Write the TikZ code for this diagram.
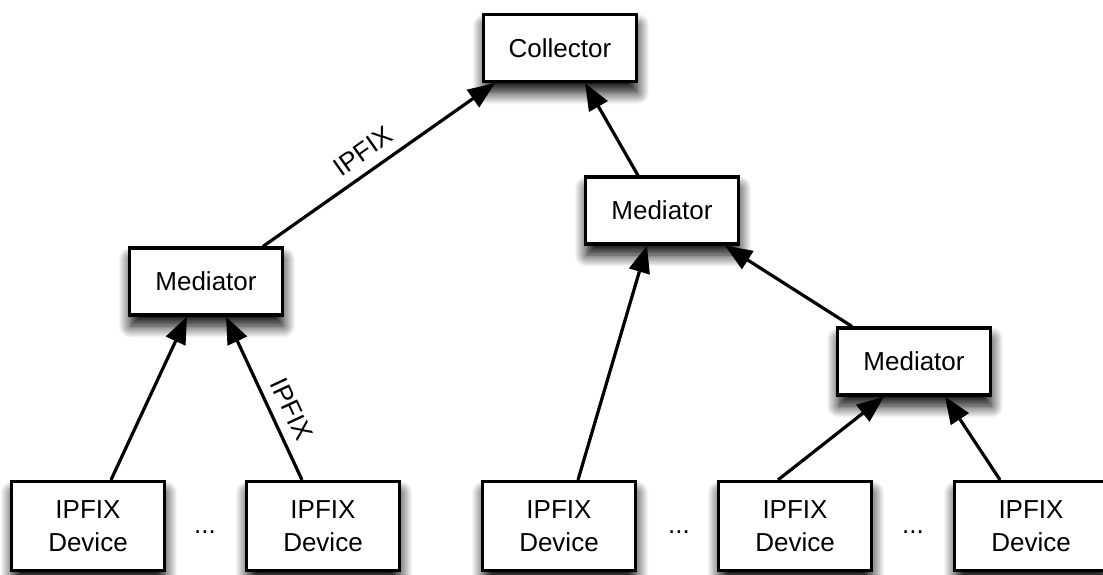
\documentclass[tikz,border=0pt]{standalone}
\usepackage{fontspec}
\setmainfont{Liberation Sans}
\usetikzlibrary{arrows.meta,shadows.blur}

\tikzset{
  box/.style={draw=black, line width=3.2pt, fill=white, align=center,
    font=\fontsize{26}{33}\selectfont, inner sep=0pt,
    blur shadow={shadow xshift=1pt, shadow yshift=-11pt,
      shadow blur radius=12pt, shadow opacity=100, shadow blur steps=16}},
  unit/.style={box, minimum width=153pt, minimum height=67pt},
  device/.style={box, minimum width=153pt, minimum height=89pt},
  arr/.style={line width=3.2pt, -{Triangle[length=27pt,width=21pt]}},
  lbl/.style={font=\fontsize{26}{30}\selectfont, sloped, inner sep=2pt},
  dots/.style={font=\fontsize{26}{30}\selectfont, anchor=base, inner sep=0pt}
}

\begin{document}
\begin{tikzpicture}[x=1pt, y=-1pt]
  \useasboundingbox (0,0) rectangle (1103,574);

  % collector and mediators
  \node[unit] (coll) at (560,48) {Collector};
  \node[unit] (mL) at (206,281.5) {Mediator};
  \node[unit] (mM) at (662,210.5) {Mediator};
  \node[unit] (mR) at (914,361.5) {Mediator};

  % exporting devices
  \node[device] (d1) at (88,526) {IPFIX\\Device};
  \node[device] (d2) at (323,526) {IPFIX\\Device};
  \node[device] (d3) at (559,526) {IPFIX\\Device};
  \node[device] (d4) at (795,526) {IPFIX\\Device};
  \node[device] (d5) at (1031,526) {IPFIX\\Device};

  % gaps between devices
  \node[dots] (g1) at (205,533) {...};
  \node[dots] (g2) at (679,533) {...};
  \node[dots] (g3) at (913,533) {...};

  % flows
  \draw[arr] ([xshift=57pt]mL.north) -- node[lbl, pos=0.48, above=8pt] {IPFIX} ([xshift=-65pt]coll.south);
  \draw[arr] ([xshift=-24pt]mM.north) -- ([xshift=25pt]coll.south);
  \draw[arr] ([xshift=-62pt]mR.north) -- ([xshift=63pt]mM.south);
  \draw[arr] ([xshift=23pt]d1.north) -- ([xshift=-19pt]mL.south);
  \draw[arr] ([xshift=-21pt]d2.north) -- node[lbl, pos=0.38, above=8pt] {IPFIX} ([xshift=20pt]mL.south);
  \draw[arr] ([xshift=19pt]d3.north) -- ([xshift=-15pt]mM.south);
  \draw[arr] ([xshift=-17pt]d4.north) -- ([xshift=-30pt]mR.south);
  \draw[arr] ([xshift=-31pt]d5.north) -- ([xshift=31pt]mR.south);
\end{tikzpicture}
\end{document}
